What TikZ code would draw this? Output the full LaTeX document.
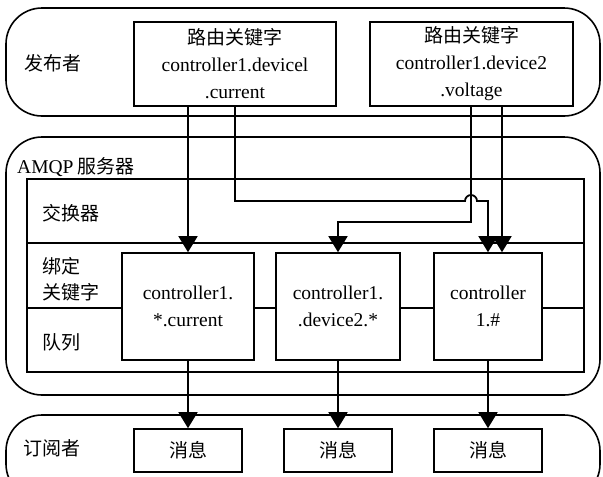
\documentclass[tikz,border=0pt]{standalone}
\usepackage{fontspec}
\setmainfont{Liberation Serif}
\newfontfamily\lat{Liberation Serif}
\newfontfamily\cjk{Noto Sans CJK SC}
\usetikzlibrary{arrows.meta}
\begin{document}
\begin{tikzpicture}[x=1pt,y=-1pt,
  band/.style={draw, line width=1.6pt, rounded corners=36pt},
  frame/.style={draw, line width=1.6pt},
  box/.style={draw, line width=1.6pt, fill=white, inner sep=0pt, align=center,
    font=\lat\fontsize{19.5}{27}\selectfont},
  lab/.style={inner sep=0pt, anchor=west, align=left, font=\cjk\fontsize{19}{26}\selectfont},
  msg/.style={box, minimum width=108pt, minimum height=43pt, font=\cjk\fontsize{19}{26}\selectfont},
  arr/.style={line width=1.8pt, -{Triangle[length=16pt,width=19pt]}}]
\useasboundingbox (0,0) rectangle (603,477);
\fill[white] (0,0) rectangle (603,477);
\begin{scope}
\clip (0,0) rectangle (603,477);
% bands
\draw[band] (6,8) rectangle (600,116);
\draw[band] (6,137) rectangle (600,395);
\draw[band] (6,415) rectangle (600,500);
\end{scope}
% inner frame of the server
\draw[frame] (27,179) rectangle (584,372);
\draw[frame] (27,243) -- (584,243);
\draw[frame] (27,308) -- (584,308);
% labels
\node[lab, anchor=center] (lpub) at (53,63) {发布者};
\node[lab] (lamqp) at (17,167) {{\lat\fontsize{19.5}{26}\selectfont AMQP} 服务器};
\node[lab] (lex) at (42,213) {交换器};
\node[lab] (lbind) at (42,279) {绑定\\关键字};
\node[lab] (lq) at (42,342) {队列};
\node[lab] (lsub) at (23,448) {订阅者};
% publisher boxes
\node[box, minimum width=202pt, minimum height=84pt] (p1) at (235,64)
  {{\cjk\fontsize{19}{27}\selectfont 路由关键字}\\controller1.devicel\\.current};
\node[box, minimum width=203pt, minimum height=84pt] (p2) at (471.5,64)
  {{\cjk\fontsize{19}{27}\selectfont 路由关键字}\\controller1.device2\\.voltage};
% queue boxes
\node[box, minimum width=132pt, minimum height=107pt] (qa) at (188,306.5) {controller1.\\*.current};
\node[box, minimum width=124pt, minimum height=107pt] (qb) at (338,306.5) {controller1.\\.device2.*};
\node[box, minimum width=108pt, minimum height=107pt] (qc) at (488,306.5) {controller\\1.\#};
% message boxes
\node[msg] (m1) at (188,450.5) {消息};
\node[msg] (m2) at (338,450.5) {消息};
\node[msg] (m3) at (488,450.5) {消息};
% routing coordinates
\coordinate (j1) at (235,201);
\coordinate (jl) at (465,201);
\coordinate (k1) at (471,222);
\coordinate (r2) at (502,0);
% connectors from publishers
\draw[arr] (qa.north |- p1.south) -- (qa.north);
\draw[arr] (p1.south -| j1) -- (j1) -- (jl) arc[start angle=180, end angle=0, radius=6pt] -- (qc.north |- j1) -- (qc.north);
\draw[arr] (p2.south -| k1) -- (k1) -| (qb.north);
\draw[arr] (p2.south -| r2) -- (qc.north -| r2);
% connectors to subscribers
\draw[arr] (qa.south) -- (m1.north);
\draw[arr] (qb.south) -- (m2.north);
\draw[arr] (qc.south) -- (m3.north);
\end{tikzpicture}
\end{document}
